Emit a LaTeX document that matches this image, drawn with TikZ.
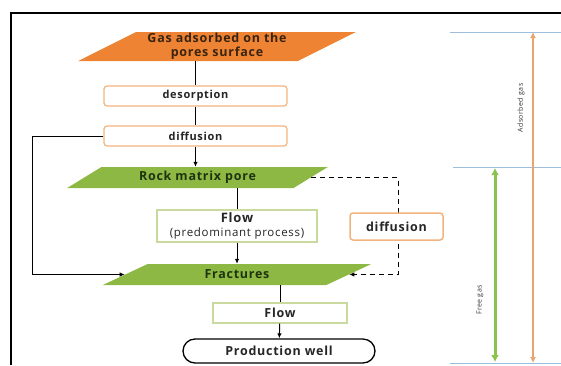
\documentclass[tikz,border=0pt]{standalone}
\usepackage{fontspec}
\setmainfont{Open Sans}[LetterSpace=6]
\usetikzlibrary{shapes.geometric,shapes.misc,arrows.meta}
\definecolor{gasorange}{HTML}{EE8433}
\definecolor{gasbrown}{HTML}{3A2410}
\definecolor{rockgreen}{HTML}{8DB843}
\definecolor{rockdark}{HTML}{1E3410}
\definecolor{boxorange}{HTML}{F2B47E}
\definecolor{boxgreen}{HTML}{C8DA9E}
\definecolor{linkblue}{HTML}{9DBEDD}
\definecolor{arroworange}{HTML}{E8A56E}
\definecolor{arrowgreen}{HTML}{8CC34F}

\begin{document}
\begin{tikzpicture}[x=1pt,y=-1pt,
  every node/.style={font=\fontsize{12.5}{14}\selectfont\bfseries, text=black!85},
  para/.style={trapezium, trapezium stretches=true, inner sep=0pt, align=center},
  procbox/.style={draw=boxorange, line width=1.2pt, rounded corners=3pt, fill=white, inner sep=0pt},
  flowbox/.style={draw=boxgreen, line width=1.2pt, fill=white, inner sep=0pt, align=center},
  small/.style={font=\fontsize{11}{13}\selectfont\bfseries},
  link/.style={line width=1pt},
  tip/.style={-{Latex[length=5pt,width=4.5pt]}},
  sidelabel/.style={rotate=90, font=\fontsize{7}{8}\selectfont, text=black!80}
]
\useasboundingbox (0,0) rectangle (561,365);
\draw[line width=1.4pt] (11,365) -- (11,13) -- (561,13);

\node[para, trapezium left angle=28, trapezium right angle=152, fill=gasorange, text=gasbrown, minimum width=278pt, minimum height=29pt] (gas) at (217,46.5) {Gas adsorbed on the\\pores surface};
\node[procbox, small, minimum width=183pt, minimum height=20pt] (desorb) at (195.5,96) {desorption};
\node[procbox, small, minimum width=183pt, minimum height=20pt] (diffuse) at (195.5,136) {diffusion};
\node[para, trapezium left angle=31, trapezium right angle=149, fill=rockgreen, text=rockdark, minimum width=261pt, minimum height=21pt] (rock) at (197.5,177.5) {Rock matrix pore};
\node[flowbox, minimum width=160pt, minimum height=32pt] (flowmain) at (237,226) {{\fontsize{13}{14}\selectfont Flow}\\{\fontsize{11.5}{13}\selectfont\mdseries (predominant process)}};
\node[para, trapezium left angle=29, trapezium right angle=151, fill=rockgreen, text=rockdark, minimum width=270pt, minimum height=21pt] (frac) at (237,274.5) {Fractures};
\node[flowbox, minimum width=134pt, minimum height=20pt] (flowout) at (280,313) {Flow};
\node[rounded rectangle, draw, line width=1.3pt, fill=white, minimum width=192pt, minimum height=24pt, inner sep=0pt] (well) at (279,351) {Production well};

\draw[link] (gas.south -| desorb.north) -- (desorb.north);
\draw[link] (desorb) -- (diffuse);
\draw[link,tip] (diffuse.south) -- (diffuse.south |- rock.north);
\draw[link] (flowmain.north |- rock.south) -- (flowmain.north);
\draw[link,tip] (flowmain.south) -- (flowmain.south |- frac.north);
\draw[link] (flowout.north |- frac.south) -- (flowout.north);
\draw[link,tip] (flowout) -- (well);

\coordinate (loopcorner) at (32,138);
\draw[link,tip] (diffuse.west) -- (diffuse.west -| loopcorner) |- (frac.west);
\coordinate (dashcorner) at (398,180);
\draw[link,tip,dash pattern=on 5pt off 4pt] (rock.east) -- (rock.east -| dashcorner) |- (frac.east);
\node[procbox, line width=1.5pt, minimum width=93pt, minimum height=27pt] (diffside) at (396.5,226.5) {diffusion};

\coordinate (topL) at (450,32);
\coordinate (topR) at (561,32);
\coordinate (midL) at (453,167);
\coordinate (midR) at (561,167);
\coordinate (botL) at (450,363);
\coordinate (botR) at (561,363);
\draw[linkblue, line width=0.8pt] (topL) -- (topR);
\draw[linkblue, line width=0.8pt] (midL) -- (midR);
\draw[linkblue, line width=0.8pt] (botL) -- (botR);

\coordinate (adsTop) at (533,32);
\coordinate (adsBot) at (533,363);
\coordinate (freeTop) at (495,168);
\coordinate (freeBot) at (495,362);
\draw[arroworange, line width=2pt, {Latex[length=6pt,width=6pt]}-{Latex[length=6pt,width=6pt]}] (adsTop) -- (adsBot);
\draw[arrowgreen, line width=3pt, {Latex[length=7pt,width=8pt]}-{Latex[length=7pt,width=8pt]}] (freeTop) -- (freeBot);
\node[sidelabel] (adslabel) at (521,108) {Adsorbed gas};
\node[sidelabel] (freelabel) at (480,300) {Free gas};

\end{tikzpicture}
\end{document}
